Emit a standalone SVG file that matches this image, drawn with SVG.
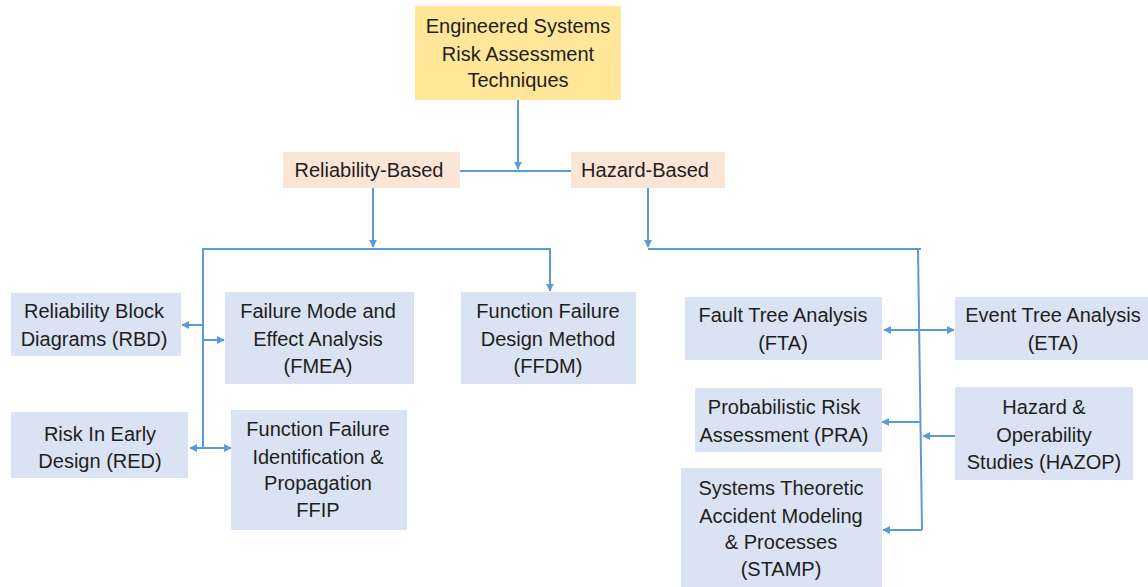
<svg xmlns="http://www.w3.org/2000/svg" width="1148" height="587" viewBox="0 0 1148 587">
<defs>
<style>
.box{fill:#DAE3F3}
.top{fill:#FFE699}
.cat{fill:#FBE5D6}
text{font-family:"Liberation Sans",Arial,sans-serif;font-size:20px;fill:#1e1e1e;text-anchor:middle}
.ln{fill:none;stroke:#5B9BD5;stroke-width:2}
</style>
<marker id="ah" viewBox="0 0 10 10" refX="9" refY="5" markerWidth="4" markerHeight="4" orient="auto" markerUnits="strokeWidth">
<path d="M0,0 L10,5 L0,10 z" fill="#5B9BD5"/>
</marker>
</defs>
<rect width="1148" height="587" fill="#ffffff"/>
<g id="connectors">
<path class="ln" d="M518,100 V169" marker-end="url(#ah)"/>
<path class="ln" d="M460,171 H571"/>
<path class="ln" d="M373,188 V247" marker-end="url(#ah)"/>
<path class="ln" d="M203,448 V249 H550 V291" marker-end="url(#ah)"/>
<path class="ln" d="M203,325 H182" marker-end="url(#ah)"/>
<path class="ln" d="M203,340 H224" marker-end="url(#ah)"/>
<path class="ln" d="M203,448 H190" marker-end="url(#ah)"/>
<path class="ln" d="M203,448 H231" marker-end="url(#ah)"/>
<path class="ln" d="M648,188 V247" marker-end="url(#ah)"/>
<path class="ln" d="M648,249 H921"/>
<path class="ln" d="M918,249 L922,530"/>
<path class="ln" d="M920,330 H884" marker-end="url(#ah)"/>
<path class="ln" d="M920,330 H954" marker-end="url(#ah)"/>
<path class="ln" d="M920,422 H882" marker-end="url(#ah)"/>
<path class="ln" d="M955,436 H923" marker-end="url(#ah)"/>
<path class="ln" d="M922,530 H883" marker-end="url(#ah)"/>
</g>
<g id="root"><rect class="top" x="415" y="6" width="206" height="94"/>
<text x="518" y="33">Engineered Systems</text><text x="518" y="61">Risk Assessment</text><text x="518" y="87">Techniques</text></g>
<g id="reliability"><rect class="cat" x="283" y="152" width="177" height="36"/><text x="369" y="177">Reliability-Based</text></g>
<g id="hazard"><rect class="cat" x="571" y="152" width="154" height="36"/><text x="645" y="177">Hazard-Based</text></g>
<g id="rbd"><rect class="box" x="11" y="293" width="170" height="63"/><text x="94" y="318">Reliability Block</text><text x="94" y="346">Diagrams (RBD)</text></g>
<g id="fmea"><rect class="box" x="225" y="292" width="189" height="92"/><text x="318" y="318">Failure Mode and</text><text x="318" y="346">Effect Analysis</text><text x="318" y="373">(FMEA)</text></g>
<g id="ffdm"><rect class="box" x="461" y="292" width="175" height="92"/><text x="548" y="318">Function Failure</text><text x="548" y="346">Design Method</text><text x="548" y="373">(FFDM)</text></g>
<g id="red"><rect class="box" x="11" y="412" width="177" height="66"/><text x="100" y="441">Risk In Early</text><text x="100" y="468">Design (RED)</text></g>
<g id="ffip"><rect class="box" x="231" y="410" width="176" height="120"/><text x="318" y="436">Function Failure</text><text x="318" y="464">Identification &amp;</text><text x="318" y="490">Propagation</text><text x="318" y="517">FFIP</text></g>
<g id="fta"><rect class="box" x="685" y="297" width="197" height="63"/><text x="783" y="322">Fault Tree Analysis</text><text x="783" y="350">(FTA)</text></g>
<g id="eta"><rect class="box" x="955" y="297" width="193" height="63"/><text x="1053" y="322">Event Tree Analysis</text><text x="1053" y="350">(ETA)</text></g>
<g id="pra"><rect class="box" x="695" y="388" width="187" height="64"/><text x="784" y="414">Probabilistic Risk</text><text x="784" y="442">Assessment (PRA)</text></g>
<g id="hazop"><rect class="box" x="955" y="387" width="178" height="93"/><text x="1044" y="414">Hazard &amp;</text><text x="1044" y="442">Operability</text><text x="1044" y="469">Studies (HAZOP)</text></g>
<g id="stamp"><rect class="box" x="681" y="468" width="201" height="119"/><text x="781" y="495">Systems Theoretic</text><text x="781" y="523">Accident Modeling</text><text x="781" y="549">&amp; Processes</text><text x="781" y="576">(STAMP)</text></g>
</svg>
